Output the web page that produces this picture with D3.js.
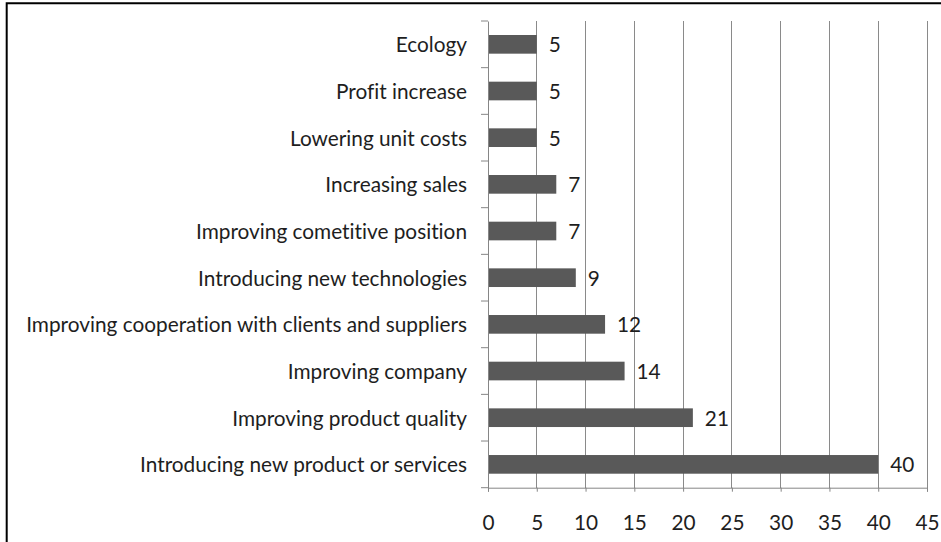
<!DOCTYPE html>
<html>
<head>
<meta charset="utf-8">
<script src="https://cdn.jsdelivr.net/npm/d3@7"></script>
<style>
  html, body { margin: 0; padding: 0; background: #fff; }
  svg { display: block; }
  text { font-family: Lato, "Open Sans", sans-serif; fill: #1e1e1e; font-variant-ligatures: none; font-feature-settings: "liga" 0, "clig" 0; }
</style>
</head>
<body>
<svg id="chart" width="941" height="542"></svg>
<script>
const categories = [
  "Ecology",
  "Profit increase",
  "Lowering unit costs",
  "Increasing sales",
  "Improving cometitive position",
  "Introducing new technologies",
  "Improving cooperation with clients and suppliers",
  "Improving company",
  "Improving product quality",
  "Introducing new product or services"
];
const values = [5, 5, 5, 7, 7, 9, 12, 14, 21, 40];
const xTicks = [0, 5, 10, 15, 20, 25, 30, 35, 40, 45];

(function () {
const svg = d3.select("#chart");
const W = 941, H = 542;
const pLeft = 488, pRight = 927, pTop = 21, pBottom = 487.7;

// outer frame
svg.append("path")
  .attr("d", `M6.7,${H + 5} L6.7,3.3 L${W + 5},3.3`)
  .attr("fill", "none").attr("stroke", "#000").attr("stroke-width", 2);

// fit font size to reference width of longest label
const probe = svg.append("text").attr("font-size", 20).text(categories[6]);
const w20 = probe.node().getComputedTextLength();
probe.remove();
const fs = 20 * 441 / w20;

const x = d3.scaleLinear().domain([0, 45]).range([pLeft, pRight]);
const y = d3.scaleBand().domain(categories).range([pTop, pBottom])
  .paddingInner(0.6).paddingOuter(0.3);

// gridlines
svg.append("g").selectAll("line").data(xTicks.slice(1)).join("line")
  .attr("x1", d => x(d)).attr("x2", d => x(d))
  .attr("y1", pTop).attr("y2", pBottom)
  .attr("stroke", "#8a8a8a").attr("stroke-width", 1)
  .attr("shape-rendering", "crispEdges");

// bars
svg.append("g").selectAll("rect").data(categories).join("rect")
  .attr("x", x(0))
  .attr("y", d => y(d))
  .attr("width", (d, i) => x(values[i]) - x(0))
  .attr("height", y.bandwidth())
  .attr("fill", "#595959");

// x axis
const xAxis = svg.append("g").attr("transform", `translate(0,${pBottom})`)
  .call(d3.axisBottom(x).tickValues(xTicks).tickSize(4));
xAxis.select(".domain").attr("stroke", "#868686");
xAxis.selectAll(".tick line").attr("stroke", "#868686");
xAxis.selectAll(".tick text").attr("font-size", fs).attr("font-family", "Lato, sans-serif")
  .attr("fill", "#1e1e1e").attr("y", 35).attr("dy", "0.36em");

// y axis
const yAxis = svg.append("g").attr("transform", `translate(${pLeft},0)`)
  .call(d3.axisLeft(y).tickSize(0).tickPadding(21));
yAxis.select(".domain").attr("stroke", "#868686");
yAxis.selectAll(".tick text").attr("font-size", fs).attr("font-family", "Lato, sans-serif")
  .attr("fill", "#1e1e1e").attr("dy", "0.38em");

// y category boundary ticks
const step = y.step();
const bounds = d3.range(categories.length + 1).map(i => pTop + i * step);
svg.append("g").selectAll("line").data(bounds).join("line")
  .attr("x1", pLeft - 7).attr("x2", pLeft)
  .attr("y1", d => d).attr("y2", d => d)
  .attr("stroke", "#868686");

// value labels
svg.append("g").selectAll("text").data(categories).join("text")
  .attr("x", (d, i) => x(values[i]) + 12)
  .attr("y", d => y(d) + y.bandwidth() / 2)
  .attr("dy", "0.38em")
  .attr("font-size", fs)
  .text((d, i) => values[i]);
})();
</script>
</body>
</html>
